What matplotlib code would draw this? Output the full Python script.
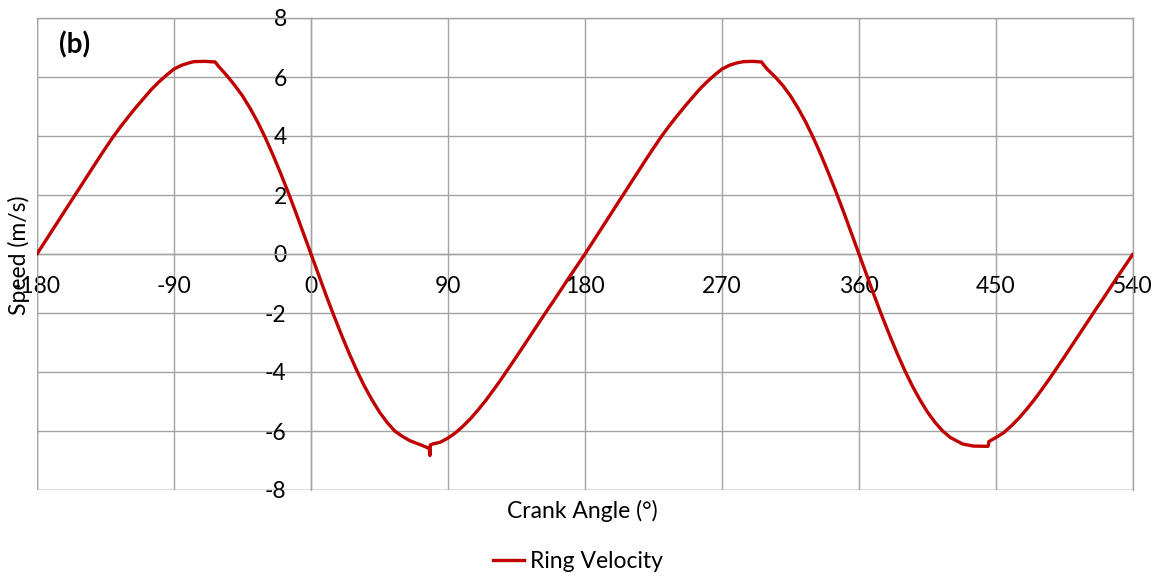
import matplotlib
matplotlib.use("Agg")
import matplotlib.pyplot as plt
from matplotlib.lines import Line2D

plt.rcParams['font.family'] = ['Lato', 'DejaVu Sans']
plt.rcParams['axes.unicode_minus'] = False

# Crank angle (deg) and ring velocity (m/s)
crank_angle = [
    -180, -175, -170, -165, -160, -155, -150, -145, -140, -135, -130, -125,
    -120, -115, -110, -105, -100, -95, -90, -85,
    -80, -77, -70, -63, -61, -55, -50, -45, -40, -35, -30, -25, -20, -15, -10, -5,
    0, 5, 10, 15, 20, 25, 30, 35, 40, 45, 50, 55, 60, 65, 70, 75,
    77.8, 78.1, 78.4, 80, 85, 90,
    95, 100, 105, 110, 115, 120, 125, 130, 135, 140, 145, 150, 155, 160, 165, 170, 175, 180,
    185, 190, 195, 200, 205, 210, 215, 220, 225, 230, 235, 240, 245, 250, 255, 260, 265, 270, 275,
    280, 284, 290, 296, 297.5, 300, 305, 310, 315, 320, 325, 330, 335, 340, 345, 350, 355,
    360, 365, 370, 375, 380, 385, 390, 395, 400, 405, 410, 415, 420, 425, 428, 435,
    444.8, 445.3, 450,
    455, 460, 465, 470, 475, 480, 485, 490, 495, 500, 505, 510, 515, 520, 525, 530, 535, 540,
]
ring_velocity = [
    0.00, 0.40, 0.80, 1.20, 1.60, 2.00, 2.40, 2.80, 3.20, 3.59, 3.97, 4.32,
    4.65, 4.97, 5.27, 5.57, 5.83, 6.06, 6.27, 6.40,
    6.48, 6.52, 6.53, 6.51, 6.38, 6.03, 5.71, 5.36, 4.94, 4.47, 3.94, 3.36, 2.74, 2.09, 1.41, 0.71,
    0.00, -0.71, -1.41, -2.09, -2.74, -3.36, -3.94, -4.47, -4.94, -5.36, -5.71, -6.00, -6.18, -6.33, -6.43, -6.53,
    -6.60, -6.83, -6.47, -6.44, -6.38, -6.24,
    -6.06, -5.83, -5.57, -5.27, -4.95, -4.60, -4.24, -3.86, -3.48, -3.09, -2.70, -2.31, -1.92, -1.54, -1.15, -0.76, -0.38, 0.00,
    0.40, 0.80, 1.20, 1.60, 2.00, 2.40, 2.80, 3.20, 3.59, 3.97, 4.32, 4.65, 4.97, 5.27, 5.57, 5.83, 6.06, 6.27, 6.40,
    6.48, 6.52, 6.53, 6.51, 6.40, 6.25, 6.00, 5.71, 5.36, 4.94, 4.47, 3.94, 3.36, 2.74, 2.09, 1.41, 0.71,
    0.00, -0.71, -1.41, -2.09, -2.74, -3.36, -3.94, -4.47, -4.94, -5.36, -5.71, -6.00, -6.22, -6.36, -6.44, -6.51,
    -6.52, -6.36, -6.22,
    -6.06, -5.83, -5.57, -5.27, -4.95, -4.60, -4.24, -3.86, -3.48, -3.09, -2.70, -2.31, -1.92, -1.54, -1.15, -0.76, -0.38, 0.00,
]

x_ticks = [-180, -90, 0, 90, 180, 270, 360, 450, 540]
y_ticks = [-8, -6, -4, -2, 0, 2, 4, 6, 8]

W, H = 1158, 577
fig = plt.figure(figsize=(W / 100, H / 100), dpi=100)
ax = fig.add_axes([37 / W, 1 - 490 / H, 1096 / W, 472 / H])

grid_color = '#a3a3a3'
line_color = '#c00000'
fs = 16.5

ax.plot(crank_angle, ring_velocity, color=line_color, lw=2.4,
        solid_joinstyle='round', solid_capstyle='round', zorder=3,
        label='Ring Velocity')

ax.set_xlim(-180, 540)
ax.set_ylim(-8, 8)
ax.set_xticks(x_ticks)
ax.set_yticks(y_ticks)
ax.grid(True, color=grid_color, lw=1.0, zorder=0)
ax.set_axisbelow(True)

# axes cross at the origin; outer frame drawn separately
ax.spines['left'].set_position(('data', 0))
ax.spines['bottom'].set_position(('data', 0))
for s in ax.spines.values():
    s.set_color(grid_color)
    s.set_linewidth(1.0)
ax.axvline(-180, color=grid_color, lw=1.0, zorder=1)
ax.axhline(-8, color=grid_color, lw=1.0, zorder=1)

ax.tick_params(length=0, labelsize=fs, colors='black')
ax.tick_params(axis='x', pad=15.5)
ax.tick_params(axis='y', pad=17.5)

ax.set_xlabel('Crank Angle (°)', fontsize=fs)
ax.xaxis.set_label_coords(545 / 1096, -0.02)
ax.set_ylabel('Speed (m/s)', fontsize=fs)
ax.yaxis.set_label_coords(-0.006, 0.498)

ax.text(0.0347, 0.943, '(b)', transform=ax.transAxes, fontsize=20,
        fontweight='bold', ha='center', va='center')

handle = Line2D([], [], color=line_color, lw=2.4)
fig.legend([handle], ['Ring Velocity'], loc='center',
           bbox_to_anchor=(578 / W, 1 - 562 / H), frameon=False,
           fontsize=fs, handlelength=1.35, handletextpad=0.25)

fig.savefig('out.png', dpi=100)
